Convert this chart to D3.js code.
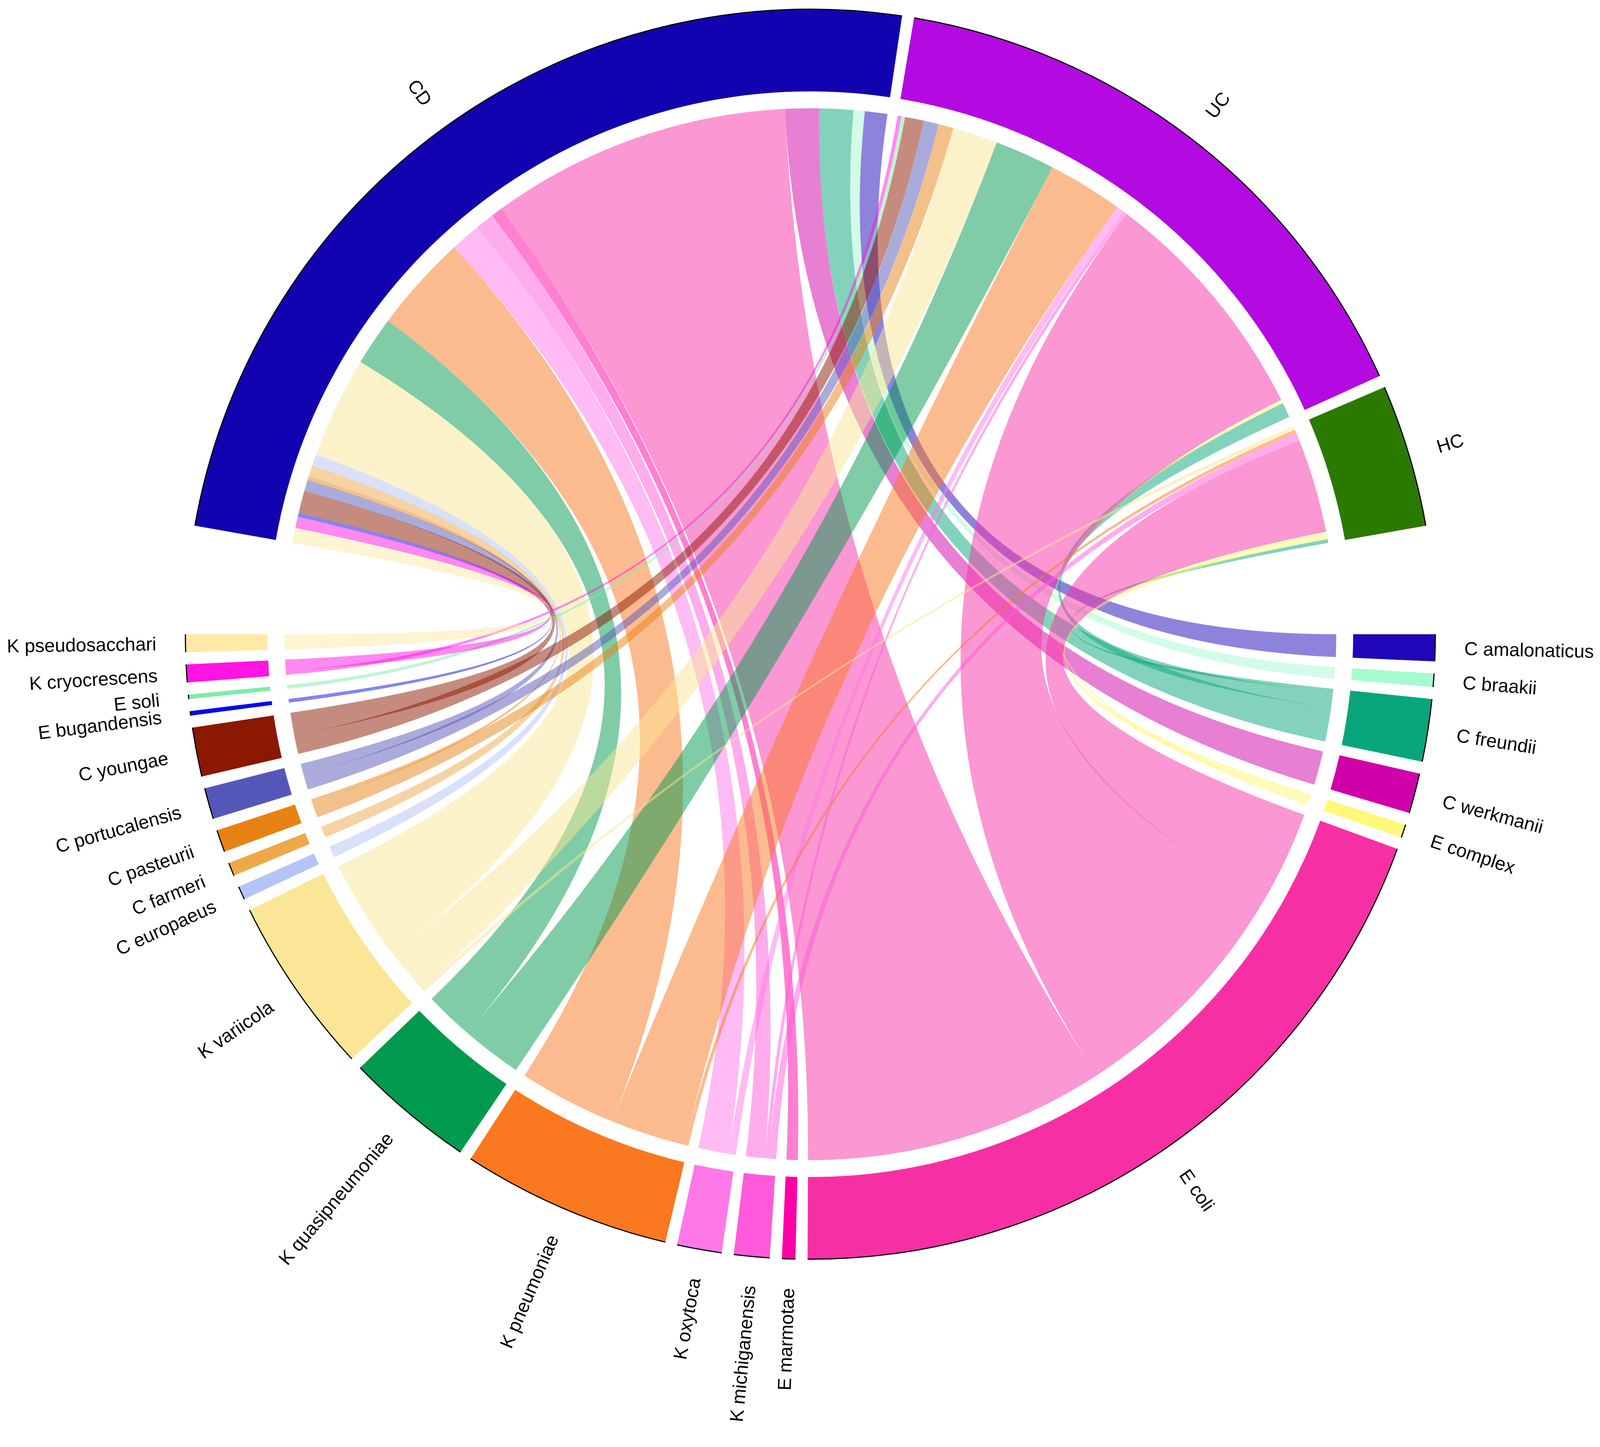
<!DOCTYPE html>
<html>
<head>
<meta charset="utf-8">
<script src="https://cdn.jsdelivr.net/npm/d3@7"></script>
<style>
  html, body { margin: 0; padding: 0; background: #fff; width: 100%; height: 100%; overflow: hidden; }
  svg { display: block; width: 100vw; height: 100vh; }
  text { font-family: "Liberation Sans", Arial, Helvetica, sans-serif; }
</style>
</head>
<body>
<svg id="chart"></svg>
<script>
/*  Data  */
const groups      = ["CD", "UC", "HC"];
const groupColors = ["#1203B0", "#B20AE0", "#2B7A00"];

const species = ["C amalonaticus", "C braakii", "C freundii", "C werkmanii", "E complex", "E coli",
  "E marmotae", "K michiganensis", "K oxytoca", "K pneumoniae", "K quasipneumoniae", "K variicola",
  "C europaeus", "C farmeri", "C pasteurii", "C portucalensis", "C youngae", "E bugandensis",
  "E soli", "K cryocrescens", "K pseudosacchari"];
const speciesColors = ["#1E08B8", "#A6FAD0", "#08A67A", "#D000A8", "#FFF878", "#F72FA5",
  "#FF00A6", "#FF5ADB", "#FF78E8", "#FA7820", "#009A4E", "#FAE696",
  "#B4C4F6", "#EEA84A", "#E88214", "#5558B8", "#8B1800", "#0808F0",
  "#7EEBA8", "#FF14E4", "#FEEAA6"];

// counts per species (same order as `species`), one array per group
const cdCounts = [6, 3, 9, 9, 0, 80, 3, 5, 8, 26, 13, 27, 3, 3, 1, 3, 6, 1, 0, 3, 4];
const ucCounts = [0, 0, 4, 0, 1, 64, 0, 1, 2, 20, 16, 12, 0, 0, 4, 4, 5, 0, 1, 1, 0];
const hcCounts = [0, 0, 1, 0, 2, 25, 0, 2, 0, 1, 0, 1, 0, 0, 0, 0, 0, 0, 0, 0, 0];

/*  Dimensions  */
const width = 4168, height = 3704;
const cx = 2111, cy = 1652;
const rOuter = 1628, rInner = 1414, rLink = 1370, rLabel = 1704;
const gapDeg = 10 / 9, bigGapDeg = 10, startDeg = 90;
const rad = d => d * Math.PI / 180;

// the drawing is laid out in a 4168 x 3704 box and scaled to the window, pinned to the top
const svg = d3.select("#chart")
  .attr("viewBox", `0 0 ${width} ${height}`)
  .attr("preserveAspectRatio", "xMidYMin meet");

svg.append("rect").attr("width", width).attr("height", height).attr("fill", "#fff");

const g = svg.append("g").attr("transform", `translate(${cx},${cy})`);

/* ---------- sectors ---------- */
const matrix = [cdCounts, ucCounts, hcCounts];

const sectors = species.map((name, i) => ({
    name, color: speciesColors[i], kind: "species", idx: i,
    total: cdCounts[i] + ucCounts[i] + hcCounts[i]
  }))
  .concat(groups.map((name, j) => ({
    name, color: groupColors[j], kind: "group", idx: j,
    total: d3.sum(matrix[j])
  })));

const N = sectors.length;
const gapAfter = sectors.map((s, k) =>
  (k === species.length - 1 || k === N - 1) ? bigGapDeg : gapDeg);
const unitDeg = (360 - d3.sum(gapAfter)) / d3.sum(sectors, s => s.total);

let cursor = startDeg;
sectors.forEach((s, k) => {
  s.pos = k;
  s.start = cursor;
  s.end = cursor + s.total * unitDeg;
  cursor = s.end + gapAfter[k];
});

const speciesSector = i => sectors[i];
const groupSector   = j => sectors[species.length + j];

/* ---------- links ---------- */
// draw order: column by column (species), then groups
const links = [];
species.forEach((sp, i) => {
  groups.forEach((gr, j) => {
    const v = matrix[j][i];
    if (v > 0) links.push({ i, j, value: v, color: speciesColors[i] });
  });
});

// inside every sector, the links are laid clockwise, nearest counter-clockwise partner first
function placeEnds(sector, ends) {
  ends.sort((a, b) => ((sector.pos - a.other.pos + N) % N) - ((sector.pos - b.other.pos + N) % N));
  let a = sector.start;
  ends.forEach(e => {
    e.slot.startAngle = rad(a);
    a += e.value * unitDeg;
    e.slot.endAngle = rad(a);
  });
}

links.forEach(l => { l.source = {}; l.target = {}; });
sectors.forEach(s => {
  const ends = s.kind === "group"
    ? links.filter(l => l.j === s.idx).map(l => ({ value: l.value, other: speciesSector(l.i), slot: l.source }))
    : links.filter(l => l.i === s.idx).map(l => ({ value: l.value, other: groupSector(l.j), slot: l.target }));
  placeEnds(s, ends);
});

const ribbon = d3.ribbon().radius(rLink);

g.append("g").attr("class", "links")
  .selectAll("path")
  .data(links)
  .join("path")
  .attr("d", ribbon)
  .attr("fill", d => d.color)
  .attr("fill-opacity", 0.5)
  .attr("stroke", "none");

/* ---------- grid track ---------- */
const arc = d3.arc()
  .innerRadius(rInner)
  .outerRadius(rOuter)
  .startAngle(d => rad(d.start))
  .endAngle(d => rad(d.end));

const sectorG = g.append("g").attr("class", "sectors");

sectorG.selectAll("path.sector")
  .data(sectors)
  .join("path")
  .attr("class", "sector")
  .attr("d", arc)
  .attr("fill", d => d.color);

// thin black line along the outer edge
sectorG.selectAll("path.rim")
  .data(sectors)
  .join("path")
  .attr("class", "rim")
  .attr("d", d => {
    const p = d3.path();
    const a0 = rad(d.start) - Math.PI / 2, a1 = rad(d.end) - Math.PI / 2;
    p.moveTo(rOuter * Math.cos(a0), rOuter * Math.sin(a0));
    p.arc(0, 0, rOuter, a0, a1);
    return p.toString();
  })
  .attr("fill", "none")
  .attr("stroke", "#000")
  .attr("stroke-width", 3);

/* ---------- labels ---------- */
g.append("g").attr("class", "labels")
  .selectAll("text")
  .data(sectors)
  .join("text")
  .attr("transform", d => {
    const mid = ((d.start + d.end) / 2) % 360;
    const flip = mid >= 180;
    return `rotate(${mid - 90}) translate(${rLabel},0)` + (flip ? " rotate(180)" : "");
  })
  .attr("text-anchor", d => (((d.start + d.end) / 2) % 360) >= 180 ? "end" : "start")
  .attr("dominant-baseline", "central")
  .attr("font-size", 49)
  .attr("fill", "#000")
  .text(d => d.name);
</script>
</body>
</html>
